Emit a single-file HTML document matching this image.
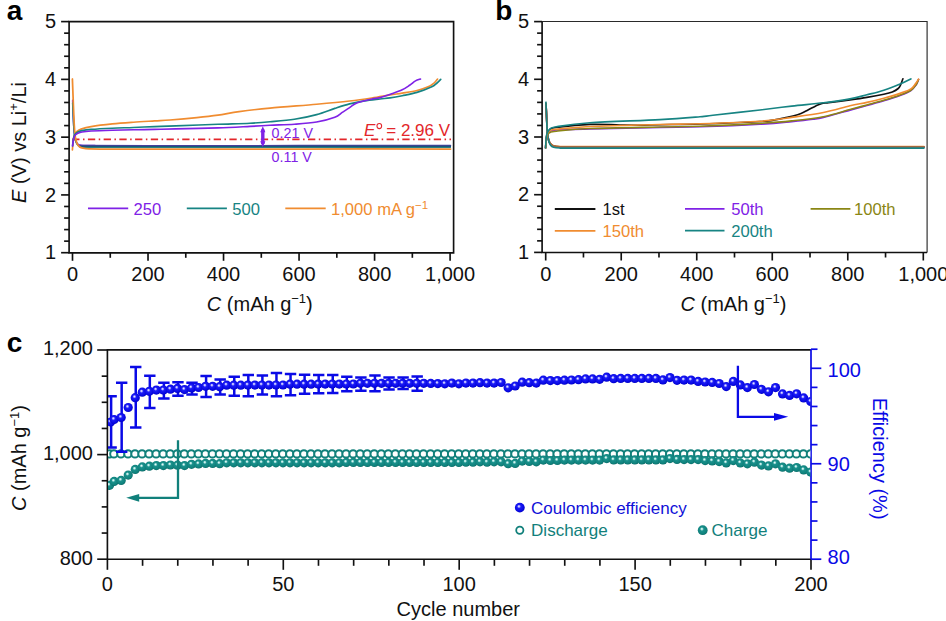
<!DOCTYPE html>
<html><head><meta charset="utf-8"><style>
html,body{margin:0;padding:0;background:#fff;}
svg{display:block;font-family:"Liberation Sans", sans-serif;}
</style></head><body>
<svg width="946" height="621" viewBox="0 0 946 621">
<rect width="946" height="621" fill="#fff"/>
<path d="M69.1,21.6 H453.6 V252.8 H69.1 Z" fill="none" stroke="#111" stroke-width="1.65"/>
<line x1="61.10" y1="252.70" x2="69.10" y2="252.70" stroke="#111" stroke-width="1.65" />
<line x1="64.10" y1="241.14" x2="69.10" y2="241.14" stroke="#111" stroke-width="1.65" />
<line x1="64.10" y1="229.59" x2="69.10" y2="229.59" stroke="#111" stroke-width="1.65" />
<line x1="64.10" y1="218.03" x2="69.10" y2="218.03" stroke="#111" stroke-width="1.65" />
<line x1="64.10" y1="206.48" x2="69.10" y2="206.48" stroke="#111" stroke-width="1.65" />
<line x1="61.10" y1="194.92" x2="69.10" y2="194.92" stroke="#111" stroke-width="1.65" />
<line x1="64.10" y1="183.37" x2="69.10" y2="183.37" stroke="#111" stroke-width="1.65" />
<line x1="64.10" y1="171.81" x2="69.10" y2="171.81" stroke="#111" stroke-width="1.65" />
<line x1="64.10" y1="160.26" x2="69.10" y2="160.26" stroke="#111" stroke-width="1.65" />
<line x1="64.10" y1="148.71" x2="69.10" y2="148.71" stroke="#111" stroke-width="1.65" />
<line x1="61.10" y1="137.15" x2="69.10" y2="137.15" stroke="#111" stroke-width="1.65" />
<line x1="64.10" y1="125.59" x2="69.10" y2="125.59" stroke="#111" stroke-width="1.65" />
<line x1="64.10" y1="114.04" x2="69.10" y2="114.04" stroke="#111" stroke-width="1.65" />
<line x1="64.10" y1="102.48" x2="69.10" y2="102.48" stroke="#111" stroke-width="1.65" />
<line x1="64.10" y1="90.93" x2="69.10" y2="90.93" stroke="#111" stroke-width="1.65" />
<line x1="61.10" y1="79.38" x2="69.10" y2="79.38" stroke="#111" stroke-width="1.65" />
<line x1="64.10" y1="67.82" x2="69.10" y2="67.82" stroke="#111" stroke-width="1.65" />
<line x1="64.10" y1="56.26" x2="69.10" y2="56.26" stroke="#111" stroke-width="1.65" />
<line x1="64.10" y1="44.71" x2="69.10" y2="44.71" stroke="#111" stroke-width="1.65" />
<line x1="64.10" y1="33.15" x2="69.10" y2="33.15" stroke="#111" stroke-width="1.65" />
<line x1="61.10" y1="21.60" x2="69.10" y2="21.60" stroke="#111" stroke-width="1.65" />
<text x="56.20" y="259.30" font-size="20" text-anchor="end" fill="#111" >1</text>
<text x="56.20" y="201.52" font-size="20" text-anchor="end" fill="#111" >2</text>
<text x="56.20" y="143.75" font-size="20" text-anchor="end" fill="#111" >3</text>
<text x="56.20" y="85.97" font-size="20" text-anchor="end" fill="#111" >4</text>
<text x="56.20" y="28.20" font-size="20" text-anchor="end" fill="#111" >5</text>
<line x1="72.50" y1="252.80" x2="72.50" y2="260.80" stroke="#111" stroke-width="1.65" />
<line x1="110.26" y1="252.80" x2="110.26" y2="257.80" stroke="#111" stroke-width="1.65" />
<line x1="148.02" y1="252.80" x2="148.02" y2="260.80" stroke="#111" stroke-width="1.65" />
<line x1="185.78" y1="252.80" x2="185.78" y2="257.80" stroke="#111" stroke-width="1.65" />
<line x1="223.54" y1="252.80" x2="223.54" y2="260.80" stroke="#111" stroke-width="1.65" />
<line x1="261.30" y1="252.80" x2="261.30" y2="257.80" stroke="#111" stroke-width="1.65" />
<line x1="299.06" y1="252.80" x2="299.06" y2="260.80" stroke="#111" stroke-width="1.65" />
<line x1="336.82" y1="252.80" x2="336.82" y2="257.80" stroke="#111" stroke-width="1.65" />
<line x1="374.58" y1="252.80" x2="374.58" y2="260.80" stroke="#111" stroke-width="1.65" />
<line x1="412.34" y1="252.80" x2="412.34" y2="257.80" stroke="#111" stroke-width="1.65" />
<line x1="450.10" y1="252.80" x2="450.10" y2="260.80" stroke="#111" stroke-width="1.65" />
<text x="72.50" y="280.60" font-size="20" text-anchor="middle" fill="#111" >0</text>
<text x="148.02" y="280.60" font-size="20" text-anchor="middle" fill="#111" >200</text>
<text x="223.54" y="280.60" font-size="20" text-anchor="middle" fill="#111" >400</text>
<text x="299.06" y="280.60" font-size="20" text-anchor="middle" fill="#111" >600</text>
<text x="374.58" y="280.60" font-size="20" text-anchor="middle" fill="#111" >800</text>
<text x="450.10" y="280.60" font-size="20" text-anchor="middle" fill="#111" >1,000</text>
<path d="M542.1,21.5 H927.1 V252.5" fill="none" stroke="#2a2a2a" stroke-width="1.15"/>
<path d="M927.1,252.5 H542.1 V21.5" fill="none" stroke="#111" stroke-width="1.65"/>
<line x1="534.10" y1="252.40" x2="542.10" y2="252.40" stroke="#111" stroke-width="1.65" />
<line x1="537.10" y1="240.86" x2="542.10" y2="240.86" stroke="#111" stroke-width="1.65" />
<line x1="537.10" y1="229.32" x2="542.10" y2="229.32" stroke="#111" stroke-width="1.65" />
<line x1="537.10" y1="217.78" x2="542.10" y2="217.78" stroke="#111" stroke-width="1.65" />
<line x1="537.10" y1="206.24" x2="542.10" y2="206.24" stroke="#111" stroke-width="1.65" />
<line x1="534.10" y1="194.70" x2="542.10" y2="194.70" stroke="#111" stroke-width="1.65" />
<line x1="537.10" y1="183.16" x2="542.10" y2="183.16" stroke="#111" stroke-width="1.65" />
<line x1="537.10" y1="171.62" x2="542.10" y2="171.62" stroke="#111" stroke-width="1.65" />
<line x1="537.10" y1="160.08" x2="542.10" y2="160.08" stroke="#111" stroke-width="1.65" />
<line x1="537.10" y1="148.54" x2="542.10" y2="148.54" stroke="#111" stroke-width="1.65" />
<line x1="534.10" y1="137.00" x2="542.10" y2="137.00" stroke="#111" stroke-width="1.65" />
<line x1="537.10" y1="125.46" x2="542.10" y2="125.46" stroke="#111" stroke-width="1.65" />
<line x1="537.10" y1="113.92" x2="542.10" y2="113.92" stroke="#111" stroke-width="1.65" />
<line x1="537.10" y1="102.38" x2="542.10" y2="102.38" stroke="#111" stroke-width="1.65" />
<line x1="537.10" y1="90.84" x2="542.10" y2="90.84" stroke="#111" stroke-width="1.65" />
<line x1="534.10" y1="79.30" x2="542.10" y2="79.30" stroke="#111" stroke-width="1.65" />
<line x1="537.10" y1="67.76" x2="542.10" y2="67.76" stroke="#111" stroke-width="1.65" />
<line x1="537.10" y1="56.22" x2="542.10" y2="56.22" stroke="#111" stroke-width="1.65" />
<line x1="537.10" y1="44.68" x2="542.10" y2="44.68" stroke="#111" stroke-width="1.65" />
<line x1="537.10" y1="33.14" x2="542.10" y2="33.14" stroke="#111" stroke-width="1.65" />
<line x1="534.10" y1="21.60" x2="542.10" y2="21.60" stroke="#111" stroke-width="1.65" />
<text x="529.00" y="259.00" font-size="20" text-anchor="end" fill="#111" >1</text>
<text x="529.00" y="201.30" font-size="20" text-anchor="end" fill="#111" >2</text>
<text x="529.00" y="143.60" font-size="20" text-anchor="end" fill="#111" >3</text>
<text x="529.00" y="85.90" font-size="20" text-anchor="end" fill="#111" >4</text>
<text x="529.00" y="28.20" font-size="20" text-anchor="end" fill="#111" >5</text>
<line x1="545.70" y1="252.50" x2="545.70" y2="260.50" stroke="#111" stroke-width="1.65" />
<line x1="583.46" y1="252.50" x2="583.46" y2="257.50" stroke="#111" stroke-width="1.65" />
<line x1="621.22" y1="252.50" x2="621.22" y2="260.50" stroke="#111" stroke-width="1.65" />
<line x1="658.98" y1="252.50" x2="658.98" y2="257.50" stroke="#111" stroke-width="1.65" />
<line x1="696.74" y1="252.50" x2="696.74" y2="260.50" stroke="#111" stroke-width="1.65" />
<line x1="734.50" y1="252.50" x2="734.50" y2="257.50" stroke="#111" stroke-width="1.65" />
<line x1="772.26" y1="252.50" x2="772.26" y2="260.50" stroke="#111" stroke-width="1.65" />
<line x1="810.02" y1="252.50" x2="810.02" y2="257.50" stroke="#111" stroke-width="1.65" />
<line x1="847.78" y1="252.50" x2="847.78" y2="260.50" stroke="#111" stroke-width="1.65" />
<line x1="885.54" y1="252.50" x2="885.54" y2="257.50" stroke="#111" stroke-width="1.65" />
<line x1="923.30" y1="252.50" x2="923.30" y2="260.50" stroke="#111" stroke-width="1.65" />
<text x="545.70" y="280.60" font-size="20" text-anchor="middle" fill="#111" >0</text>
<text x="621.22" y="280.60" font-size="20" text-anchor="middle" fill="#111" >200</text>
<text x="696.74" y="280.60" font-size="20" text-anchor="middle" fill="#111" >400</text>
<text x="772.26" y="280.60" font-size="20" text-anchor="middle" fill="#111" >600</text>
<text x="847.78" y="280.60" font-size="20" text-anchor="middle" fill="#111" >800</text>
<text x="923.30" y="280.60" font-size="20" text-anchor="middle" fill="#111" >1,000</text>
<line x1="72.2" y1="139.35" x2="451" y2="139.35" stroke="#e3262a" stroke-width="1.75" stroke-dasharray="7.3 3.5 1.5 3.42"/>
<path d="M72.70,100.40 C72.78,102.83 73.00,110.40 73.20,115.00 C73.40,119.60 73.67,124.58 73.90,128.00 C74.13,131.42 74.32,133.47 74.60,135.50 C74.88,137.53 75.17,138.88 75.60,140.20 C76.03,141.52 76.55,142.60 77.20,143.40 C77.85,144.20 78.53,144.65 79.50,145.00 C80.47,145.35 80.42,145.42 83.00,145.50 C85.58,145.58 93.00,145.50 95.00,145.50" fill="none" stroke="#7f22e6" stroke-width="1.65" stroke-linejoin="round" stroke-linecap="round" />
<path d="M72.70,103.00 C72.78,105.00 73.00,110.83 73.20,115.00 C73.40,119.17 73.67,124.53 73.90,128.00 C74.13,131.47 74.32,133.67 74.60,135.80 C74.88,137.93 75.17,139.38 75.60,140.80 C76.03,142.22 76.55,143.40 77.20,144.30 C77.85,145.20 78.53,145.78 79.50,146.20 C80.47,146.62 80.42,146.70 83.00,146.80 C85.58,146.90 93.00,146.80 95.00,146.80" fill="none" stroke="#178483" stroke-width="1.65" stroke-linejoin="round" stroke-linecap="round" />
<path d="M80.00,147.30 C91.67,147.32 113.33,147.40 150.00,147.40 C186.67,147.40 249.92,147.32 300.00,147.30 C350.08,147.28 425.42,147.30 450.50,147.30" fill="none" stroke="#2a8f84" stroke-width="1.2" stroke-linejoin="round" stroke-linecap="round" />
<path d="M80.00,145.60 C91.67,145.62 113.33,145.70 150.00,145.70 C186.67,145.70 249.92,145.62 300.00,145.60 C350.08,145.58 425.42,145.60 450.50,145.60" fill="none" stroke="#44409e" stroke-width="1.5" stroke-linejoin="round" stroke-linecap="round" />
<path d="M80.00,146.50 C91.67,146.52 113.33,146.60 150.00,146.60 C186.67,146.60 249.92,146.52 300.00,146.50 C350.08,146.48 425.42,146.50 450.50,146.50" fill="none" stroke="#1d5478" stroke-width="1.3" stroke-linejoin="round" stroke-linecap="round" />
<path d="M72.40,79.00 C72.53,82.50 72.93,93.17 73.20,100.00 C73.47,106.83 73.73,114.58 74.00,120.00 C74.27,125.42 74.50,129.25 74.80,132.50 C75.10,135.75 75.38,137.58 75.80,139.50 C76.22,141.42 76.68,142.78 77.30,144.00 C77.92,145.22 78.55,146.10 79.50,146.80 C80.45,147.50 81.42,147.85 83.00,148.20 C84.58,148.55 86.17,148.77 89.00,148.90 C91.83,149.03 81.50,148.97 100.00,149.00 C118.50,149.03 166.67,149.10 200.00,149.10 C233.33,149.10 258.25,149.02 300.00,149.00 C341.75,148.98 425.42,149.00 450.50,149.00" fill="none" stroke="#f08c30" stroke-width="1.75" stroke-linejoin="round" stroke-linecap="round" />
<path d="M72.40,150.00 C72.50,148.83 72.77,145.08 73.00,143.00 C73.23,140.92 73.43,139.08 73.80,137.50 C74.17,135.92 74.58,134.58 75.20,133.50 C75.82,132.42 76.60,131.72 77.50,131.00 C78.40,130.28 78.33,129.93 80.60,129.20 C82.87,128.47 85.82,127.48 91.10,126.60 C96.38,125.72 105.25,124.63 112.30,123.90 C119.35,123.17 126.35,122.70 133.40,122.20 C140.45,121.70 148.50,121.27 154.60,120.90 C160.70,120.53 162.97,120.55 170.00,120.00 C177.03,119.45 188.80,118.42 196.80,117.60 C204.80,116.78 210.95,116.10 218.00,115.10 C225.05,114.10 230.43,112.77 239.10,111.60 C247.77,110.43 257.08,109.33 270.00,108.10 C282.92,106.87 303.33,105.38 316.60,104.20 C329.87,103.02 340.40,102.03 349.60,101.00 C358.80,99.97 365.07,99.02 371.80,98.00 C378.53,96.98 384.93,95.72 390.00,94.90 C395.07,94.08 397.70,93.83 402.20,93.10 C406.70,92.37 412.68,91.55 417.00,90.50 C421.32,89.45 425.27,88.03 428.10,86.80 C430.93,85.57 432.42,84.40 434.00,83.10 C435.58,81.80 437.00,79.68 437.60,79.00" fill="none" stroke="#f08c30" stroke-width="1.65" stroke-linejoin="round" stroke-linecap="round" />
<path d="M72.60,146.00 C72.70,145.00 72.93,141.70 73.20,140.00 C73.47,138.30 73.80,136.87 74.20,135.80 C74.60,134.73 75.05,134.20 75.60,133.60 C76.15,133.00 76.43,132.70 77.50,132.20 C78.57,131.70 79.73,131.07 82.00,130.60 C84.27,130.13 86.05,129.80 91.10,129.40 C96.15,129.00 105.25,128.52 112.30,128.20 C119.35,127.88 126.35,127.77 133.40,127.50 C140.45,127.23 147.55,126.87 154.60,126.60 C161.65,126.33 165.13,126.28 175.70,125.90 C186.27,125.52 205.62,124.75 218.00,124.30 C230.38,123.85 241.33,123.62 250.00,123.20 C258.67,122.78 262.60,122.45 270.00,121.80 C277.40,121.15 286.63,120.50 294.40,119.30 C302.17,118.10 309.87,116.42 316.60,114.60 C323.33,112.78 329.30,110.18 334.80,108.40 C340.30,106.62 344.67,105.15 349.60,103.90 C354.53,102.65 359.33,101.72 364.40,100.90 C369.47,100.08 375.73,99.50 380.00,99.00 C384.27,98.50 386.30,98.45 390.00,97.90 C393.70,97.35 397.70,96.62 402.20,95.70 C406.70,94.78 412.07,93.88 417.00,92.40 C421.93,90.92 428.47,88.37 431.80,86.80 C435.13,85.23 435.52,84.23 437.00,83.00 C438.48,81.77 440.08,80.00 440.70,79.40" fill="none" stroke="#178483" stroke-width="1.65" stroke-linejoin="round" stroke-linecap="round" />
<path d="M72.60,146.00 C72.70,145.17 72.93,142.50 73.20,141.00 C73.47,139.50 73.80,138.03 74.20,137.00 C74.60,135.97 75.05,135.38 75.60,134.80 C76.15,134.22 76.43,133.97 77.50,133.50 C78.57,133.03 79.73,132.42 82.00,132.00 C84.27,131.58 86.05,131.30 91.10,131.00 C96.15,130.70 105.25,130.40 112.30,130.20 C119.35,130.00 126.35,129.93 133.40,129.80 C140.45,129.67 147.55,129.55 154.60,129.40 C161.65,129.25 165.13,129.15 175.70,128.90 C186.27,128.65 205.62,128.32 218.00,127.90 C230.38,127.48 241.33,126.83 250.00,126.40 C258.67,125.97 262.60,125.67 270.00,125.30 C277.40,124.93 286.63,124.75 294.40,124.20 C302.17,123.65 309.87,123.17 316.60,122.00 C323.33,120.83 330.53,118.80 334.80,117.20 C339.07,115.60 339.73,114.00 342.20,112.40 C344.67,110.80 347.50,109.02 349.60,107.60 C351.70,106.18 352.95,104.88 354.80,103.90 C356.65,102.92 357.83,102.52 360.70,101.70 C363.57,100.88 368.78,99.68 372.00,99.00 C375.22,98.32 376.82,98.43 380.00,97.60 C383.18,96.77 387.40,95.30 391.10,94.00 C394.80,92.70 399.12,91.25 402.20,89.80 C405.28,88.35 407.38,86.78 409.60,85.30 C411.82,83.82 413.68,81.95 415.50,80.90 C417.32,79.85 419.67,79.32 420.50,79.00" fill="none" stroke="#7f22e6" stroke-width="1.65" stroke-linejoin="round" stroke-linecap="round" />
<line x1="262.8" y1="129.5" x2="262.8" y2="144" stroke="#7f22e6" stroke-width="3.4"/>
<path d="M262.8,126.3 L260.2,132.2 L265.4,132.2 Z M262.8,147.2 L260.2,141.3 L265.4,141.3 Z" fill="#7f22e6"/>
<text x="271.60" y="137.50" font-size="14.3" text-anchor="start" fill="#7f22e6" >0.21 V</text>
<text x="271.60" y="162.40" font-size="14.3" text-anchor="start" fill="#7f22e6" >0.11 V</text>
<text x="364.00" y="135.60" font-size="17" text-anchor="start" fill="#e3262a" ><tspan font-style="italic">E</tspan><tspan dx="6.2"> = 2.96 V</tspan></text>
<ellipse cx="379.3" cy="126.0" rx="2.35" ry="2.6" fill="none" stroke="#e3262a" stroke-width="1.05"/>
<line x1="88.00" y1="208.40" x2="128.20" y2="208.40" stroke="#7f22e6" stroke-width="1.8" />
<text x="133.50" y="215.30" font-size="16.6" text-anchor="start" fill="#7f22e6" >250</text>
<line x1="186.80" y1="208.40" x2="226.90" y2="208.40" stroke="#178483" stroke-width="1.8" />
<text x="232.20" y="215.30" font-size="16.6" text-anchor="start" fill="#178483" >500</text>
<line x1="285.30" y1="208.40" x2="325.70" y2="208.40" stroke="#f08c30" stroke-width="1.8" />
<text x="331.00" y="215.30" font-size="16.6" text-anchor="start" fill="#f08c30" >1,000 mA g<tspan font-size="11.5" dy="-6.5">−1</tspan></text>
<path d="M546.00,103.50 C546.08,105.42 546.28,110.25 546.50,115.00 C546.72,119.75 546.95,127.83 547.30,132.00 C547.65,136.17 548.05,138.00 548.60,140.00 C549.15,142.00 549.78,142.97 550.60,144.00 C551.42,145.03 551.93,145.70 553.50,146.20 C555.07,146.70 555.58,146.87 560.00,147.00 C564.42,147.13 548.33,147.00 580.00,147.00 C611.67,147.00 692.67,147.00 750.00,147.00 C807.33,147.00 895.00,147.00 924.00,147.00" fill="none" stroke="#111" stroke-width="1.65" stroke-linejoin="round" stroke-linecap="round" />
<path d="M546.00,103.50 C546.08,105.42 546.28,110.25 546.50,115.00 C546.72,119.75 546.95,127.83 547.30,132.00 C547.65,136.17 548.05,138.02 548.60,140.00 C549.15,141.98 549.78,142.88 550.60,143.90 C551.42,144.92 551.93,145.60 553.50,146.10 C555.07,146.60 555.58,146.77 560.00,146.90 C564.42,147.03 548.33,146.90 580.00,146.90 C611.67,146.90 692.67,146.90 750.00,146.90 C807.33,146.90 895.00,146.90 924.00,146.90" fill="none" stroke="#8a8614" stroke-width="1.65" stroke-linejoin="round" stroke-linecap="round" />
<path d="M546.00,103.50 C546.08,105.42 546.28,110.25 546.50,115.00 C546.72,119.75 546.95,127.83 547.30,132.00 C547.65,136.17 548.05,138.00 548.60,140.00 C549.15,142.00 549.78,142.97 550.60,144.00 C551.42,145.03 551.93,145.70 553.50,146.20 C555.07,146.70 555.58,146.87 560.00,147.00 C564.42,147.13 548.33,147.00 580.00,147.00 C611.67,147.00 692.67,147.00 750.00,147.00 C807.33,147.00 895.00,147.00 924.00,147.00" fill="none" stroke="#7f22e6" stroke-width="1.65" stroke-linejoin="round" stroke-linecap="round" />
<path d="M546.00,103.50 C546.08,105.42 546.28,110.25 546.50,115.00 C546.72,119.75 546.95,127.83 547.30,132.00 C547.65,136.17 548.05,138.07 548.60,140.00 C549.15,141.93 549.78,142.63 550.60,143.60 C551.42,144.57 551.93,145.30 553.50,145.80 C555.07,146.30 555.58,146.47 560.00,146.60 C564.42,146.73 548.33,146.60 580.00,146.60 C611.67,146.60 692.67,146.60 750.00,146.60 C807.33,146.60 895.00,146.60 924.00,146.60" fill="none" stroke="#f08c30" stroke-width="1.65" stroke-linejoin="round" stroke-linecap="round" />
<path d="M546.00,103.50 C546.08,105.42 546.28,110.25 546.50,115.00 C546.72,119.75 546.95,127.83 547.30,132.00 C547.65,136.17 548.05,138.05 548.60,140.00 C549.15,141.95 549.78,142.72 550.60,143.70 C551.42,144.68 551.93,145.40 553.50,145.90 C555.07,146.40 555.58,146.57 560.00,146.70 C564.42,146.83 548.33,146.70 580.00,146.70 C611.67,146.70 692.67,146.70 750.00,146.70 C807.33,146.70 895.00,146.70 924.00,146.70" fill="none" stroke="#a3683f" stroke-width="1.65" stroke-linejoin="round" stroke-linecap="round" />
<path d="M545.90,102.20 C546.00,104.33 546.27,110.03 546.50,115.00 C546.73,119.97 546.95,127.75 547.30,132.00 C547.65,136.25 548.05,138.28 548.60,140.50 C549.15,142.72 549.78,144.17 550.60,145.30 C551.42,146.43 551.93,146.85 553.50,147.30 C555.07,147.75 555.58,147.87 560.00,148.00 C564.42,148.13 548.33,148.08 580.00,148.10 C611.67,148.12 692.67,148.10 750.00,148.10 C807.33,148.10 895.00,148.10 924.00,148.10" fill="none" stroke="#178483" stroke-width="1.65" stroke-linejoin="round" stroke-linecap="round" />
<path d="M545.60,148.00 C545.70,146.50 545.92,141.42 546.20,139.00 C546.48,136.58 546.67,135.08 547.30,133.50 C547.93,131.92 548.50,130.50 550.00,129.50 C551.50,128.50 549.63,128.35 556.30,127.50 C562.97,126.65 579.38,124.82 590.00,124.40 C600.62,123.98 611.67,124.87 620.00,125.00 C628.33,125.13 633.33,125.25 640.00,125.20 C646.67,125.15 650.00,124.90 660.00,124.70 C670.00,124.50 683.33,124.53 700.00,124.00 C716.67,123.47 747.33,122.23 760.00,121.50 C772.67,120.77 771.88,120.22 776.00,119.60 C780.12,118.98 781.87,118.40 784.70,117.80 C787.53,117.20 790.28,116.72 793.00,116.00 C795.72,115.28 798.50,114.50 801.00,113.50 C803.50,112.50 805.53,111.27 808.00,110.00 C810.47,108.73 813.58,106.95 815.80,105.90 C818.02,104.85 819.15,104.25 821.30,103.70 C823.45,103.15 823.92,103.23 828.70,102.60 C833.48,101.97 843.63,100.77 850.00,99.90 C856.37,99.03 861.27,98.35 866.90,97.40 C872.53,96.45 879.57,95.12 883.80,94.20 C888.03,93.28 889.90,92.85 892.30,91.90 C894.70,90.95 896.80,89.70 898.20,88.50 C899.60,87.30 899.92,86.32 900.70,84.70 C901.48,83.08 902.53,79.78 902.90,78.80" fill="none" stroke="#111" stroke-width="1.65" stroke-linejoin="round" stroke-linecap="round" />
<path d="M545.60,148.00 C545.70,146.67 545.92,142.25 546.20,140.00 C546.48,137.75 546.67,135.92 547.30,134.50 C547.93,133.08 548.50,132.25 550.00,131.50 C551.50,130.75 549.63,130.43 556.30,130.00 C562.97,129.57 572.72,129.32 590.00,128.90 C607.28,128.48 641.67,127.85 660.00,127.50 C678.33,127.15 683.33,127.35 700.00,126.80 C716.67,126.25 744.72,125.07 760.00,124.20 C775.28,123.33 782.88,122.42 791.70,121.60 C800.52,120.78 807.62,120.00 812.90,119.30 C818.18,118.60 817.22,118.93 823.40,117.40 C829.58,115.87 842.75,112.08 850.00,110.10 C857.25,108.12 861.27,107.05 866.90,105.50 C872.53,103.95 878.17,102.52 883.80,100.80 C889.43,99.08 896.18,96.92 900.70,95.20 C905.22,93.48 908.35,92.20 910.90,90.50 C913.45,88.80 914.73,86.82 916.00,85.00 C917.27,83.18 918.08,80.50 918.50,79.60" fill="none" stroke="#7f22e6" stroke-width="1.65" stroke-linejoin="round" stroke-linecap="round" />
<path d="M545.60,148.00 C545.70,146.67 545.92,142.17 546.20,140.00 C546.48,137.83 546.67,136.25 547.30,135.00 C547.93,133.75 548.50,133.13 550.00,132.50 C551.50,131.87 549.63,131.87 556.30,131.20 C562.97,130.53 572.72,129.20 590.00,128.50 C607.28,127.80 641.67,127.37 660.00,127.00 C678.33,126.63 683.33,126.90 700.00,126.30 C716.67,125.70 744.72,124.30 760.00,123.40 C775.28,122.50 781.13,122.02 791.70,120.90 C802.27,119.78 813.68,118.60 823.40,116.70 C833.12,114.80 842.75,111.45 850.00,109.50 C857.25,107.55 861.27,106.53 866.90,105.00 C872.53,103.47 878.17,102.00 883.80,100.30 C889.43,98.60 896.18,96.48 900.70,94.80 C905.22,93.12 908.35,91.88 910.90,90.20 C913.45,88.52 914.73,86.47 916.00,84.70 C917.27,82.93 918.08,80.45 918.50,79.60" fill="none" stroke="#8a8614" stroke-width="1.65" stroke-linejoin="round" stroke-linecap="round" />
<path d="M545.60,148.00 C545.70,146.67 545.92,142.42 546.20,140.00 C546.48,137.58 546.67,135.08 547.30,133.50 C547.93,131.92 548.50,131.22 550.00,130.50 C551.50,129.78 549.63,129.87 556.30,129.20 C562.97,128.53 572.72,127.28 590.00,126.50 C607.28,125.72 641.67,124.95 660.00,124.50 C678.33,124.05 683.33,124.33 700.00,123.80 C716.67,123.27 744.72,122.37 760.00,121.30 C775.28,120.23 781.13,118.87 791.70,117.40 C802.27,115.93 813.68,114.43 823.40,112.50 C833.12,110.57 842.75,107.48 850.00,105.80 C857.25,104.12 861.27,103.67 866.90,102.40 C872.53,101.13 878.17,99.75 883.80,98.20 C889.43,96.65 896.18,94.65 900.70,93.10 C905.22,91.55 908.35,90.58 910.90,88.90 C913.45,87.22 914.73,84.62 916.00,83.00 C917.27,81.38 918.08,79.83 918.50,79.20" fill="none" stroke="#f08c30" stroke-width="1.65" stroke-linejoin="round" stroke-linecap="round" />
<path d="M545.60,148.00 C545.70,146.33 545.92,140.52 546.20,138.00 C546.48,135.48 546.67,134.40 547.30,132.90 C547.93,131.40 548.50,130.03 550.00,129.00 C551.50,127.97 549.63,127.75 556.30,126.70 C562.97,125.65 572.72,123.88 590.00,122.70 C607.28,121.52 641.67,120.60 660.00,119.60 C678.33,118.60 691.18,117.42 700.00,116.70 C708.82,115.98 702.90,116.42 712.90,115.30 C722.90,114.18 746.87,111.53 760.00,110.00 C773.13,108.47 781.13,107.30 791.70,106.10 C802.27,104.90 813.68,104.00 823.40,102.80 C833.12,101.60 842.75,100.23 850.00,98.90 C857.25,97.57 861.27,96.25 866.90,94.80 C872.53,93.35 878.17,92.03 883.80,90.20 C889.43,88.37 896.18,85.68 900.70,83.80 C905.22,81.92 909.20,79.72 910.90,78.90" fill="none" stroke="#178483" stroke-width="1.65" stroke-linejoin="round" stroke-linecap="round" />
<line x1="554.80" y1="209.00" x2="595.40" y2="209.00" stroke="#111" stroke-width="1.8" />
<text x="602.50" y="215.20" font-size="16.6" text-anchor="start" fill="#111" >1st</text>
<line x1="554.80" y1="230.80" x2="595.40" y2="230.80" stroke="#f08c30" stroke-width="1.8" />
<text x="602.50" y="237.00" font-size="16.6" text-anchor="start" fill="#f08c30" >150th</text>
<line x1="685.00" y1="208.80" x2="724.50" y2="208.80" stroke="#7f22e6" stroke-width="1.8" />
<text x="731.20" y="215.00" font-size="16.6" text-anchor="start" fill="#7f22e6" >50th</text>
<line x1="685.00" y1="230.70" x2="724.50" y2="230.70" stroke="#178483" stroke-width="1.8" />
<text x="731.20" y="236.90" font-size="16.6" text-anchor="start" fill="#178483" >200th</text>
<line x1="810.60" y1="208.80" x2="850.40" y2="208.80" stroke="#8a8614" stroke-width="1.8" />
<text x="854.00" y="215.00" font-size="16.6" text-anchor="start" fill="#8a8614" >100th</text>
<text x="259.80" y="310.60" font-size="20" text-anchor="middle" fill="#111" ><tspan font-style="italic">C</tspan> (mAh g<tspan font-size="13" dy="-7.5">−1</tspan><tspan dy="7.5">)</tspan></text>
<text x="733.50" y="310.60" font-size="20" text-anchor="middle" fill="#111" ><tspan font-style="italic">C</tspan> (mAh g<tspan font-size="13" dy="-7.5">−1</tspan><tspan dy="7.5">)</tspan></text>
<text transform="translate(25.6,142.5) rotate(-90)" font-size="20" text-anchor="middle" fill="#111"><tspan font-style="italic">E</tspan> (V) vs Li<tspan font-size="13" dy="-7.5">+</tspan><tspan dy="7.5">/Li</tspan></text>
<text x="6.8" y="20.4" font-size="28" font-weight="bold" fill="#000">a</text>
<text x="495.3" y="20.4" font-size="28" font-weight="bold" fill="#000">b</text>
<text x="6.8" y="352.2" font-size="28" font-weight="bold" fill="#000">c</text>
<defs><radialGradient id="gb" cx="0.46" cy="0.44" r="0.58" fx="0.40" fy="0.36"><stop offset="0" stop-color="#f6f6ff"/><stop offset="0.14" stop-color="#b4b4ff"/><stop offset="0.34" stop-color="#1c1cf6"/><stop offset="0.8" stop-color="#0707e2"/><stop offset="1" stop-color="#0000bc"/></radialGradient><radialGradient id="gt" cx="0.46" cy="0.44" r="0.58" fx="0.40" fy="0.36"><stop offset="0" stop-color="#f4fffe"/><stop offset="0.14" stop-color="#b2e6e2"/><stop offset="0.34" stop-color="#1a918c"/><stop offset="0.8" stop-color="#0f817c"/><stop offset="1" stop-color="#0a6864"/></radialGradient></defs>
<path d="M811.0,349.8 H107.4 V559.2 H811.0" fill="none" stroke="#111" stroke-width="1.65"/>
<line x1="811.00" y1="349.10" x2="811.00" y2="559.90" stroke="#0a0ae6" stroke-width="1.7" />
<line x1="97.20" y1="559.20" x2="107.40" y2="559.20" stroke="#111" stroke-width="1.65" />
<line x1="101.70" y1="533.05" x2="107.40" y2="533.05" stroke="#111" stroke-width="1.65" />
<line x1="101.70" y1="506.90" x2="107.40" y2="506.90" stroke="#111" stroke-width="1.65" />
<line x1="101.70" y1="480.75" x2="107.40" y2="480.75" stroke="#111" stroke-width="1.65" />
<line x1="97.20" y1="454.60" x2="107.40" y2="454.60" stroke="#111" stroke-width="1.65" />
<line x1="101.70" y1="428.45" x2="107.40" y2="428.45" stroke="#111" stroke-width="1.65" />
<line x1="101.70" y1="402.30" x2="107.40" y2="402.30" stroke="#111" stroke-width="1.65" />
<line x1="101.70" y1="376.15" x2="107.40" y2="376.15" stroke="#111" stroke-width="1.65" />
<line x1="97.20" y1="350.00" x2="107.40" y2="350.00" stroke="#111" stroke-width="1.65" />
<text x="93.00" y="565.30" font-size="20" text-anchor="end" fill="#111" >800</text>
<text x="93.00" y="460.00" font-size="20" text-anchor="end" fill="#111" >1,000</text>
<text x="93.00" y="355.00" font-size="20" text-anchor="end" fill="#111" >1,200</text>
<line x1="107.40" y1="559.20" x2="107.40" y2="569.80" stroke="#111" stroke-width="1.65" />
<line x1="142.58" y1="559.20" x2="142.58" y2="565.80" stroke="#111" stroke-width="1.65" />
<line x1="177.76" y1="559.20" x2="177.76" y2="565.80" stroke="#111" stroke-width="1.65" />
<line x1="212.94" y1="559.20" x2="212.94" y2="565.80" stroke="#111" stroke-width="1.65" />
<line x1="248.12" y1="559.20" x2="248.12" y2="565.80" stroke="#111" stroke-width="1.65" />
<line x1="283.30" y1="559.20" x2="283.30" y2="569.80" stroke="#111" stroke-width="1.65" />
<line x1="318.48" y1="559.20" x2="318.48" y2="565.80" stroke="#111" stroke-width="1.65" />
<line x1="353.66" y1="559.20" x2="353.66" y2="565.80" stroke="#111" stroke-width="1.65" />
<line x1="388.84" y1="559.20" x2="388.84" y2="565.80" stroke="#111" stroke-width="1.65" />
<line x1="424.02" y1="559.20" x2="424.02" y2="565.80" stroke="#111" stroke-width="1.65" />
<line x1="459.20" y1="559.20" x2="459.20" y2="569.80" stroke="#111" stroke-width="1.65" />
<line x1="494.38" y1="559.20" x2="494.38" y2="565.80" stroke="#111" stroke-width="1.65" />
<line x1="529.56" y1="559.20" x2="529.56" y2="565.80" stroke="#111" stroke-width="1.65" />
<line x1="564.74" y1="559.20" x2="564.74" y2="565.80" stroke="#111" stroke-width="1.65" />
<line x1="599.92" y1="559.20" x2="599.92" y2="565.80" stroke="#111" stroke-width="1.65" />
<line x1="635.10" y1="559.20" x2="635.10" y2="569.80" stroke="#111" stroke-width="1.65" />
<line x1="670.28" y1="559.20" x2="670.28" y2="565.80" stroke="#111" stroke-width="1.65" />
<line x1="705.46" y1="559.20" x2="705.46" y2="565.80" stroke="#111" stroke-width="1.65" />
<line x1="740.64" y1="559.20" x2="740.64" y2="565.80" stroke="#111" stroke-width="1.65" />
<line x1="775.82" y1="559.20" x2="775.82" y2="565.80" stroke="#111" stroke-width="1.65" />
<line x1="811.00" y1="559.20" x2="811.00" y2="569.80" stroke="#111" stroke-width="1.65" />
<text x="107.40" y="591.20" font-size="20" text-anchor="middle" fill="#111" >0</text>
<text x="283.30" y="591.20" font-size="20" text-anchor="middle" fill="#111" >50</text>
<text x="459.20" y="591.20" font-size="20" text-anchor="middle" fill="#111" >100</text>
<text x="635.10" y="591.20" font-size="20" text-anchor="middle" fill="#111" >150</text>
<text x="811.00" y="591.20" font-size="20" text-anchor="middle" fill="#111" >200</text>
<line x1="811.00" y1="559.20" x2="821.30" y2="559.20" stroke="#0a0ae6" stroke-width="1.7" />
<line x1="811.00" y1="540.11" x2="817.50" y2="540.11" stroke="#0a0ae6" stroke-width="1.7" />
<line x1="811.00" y1="521.02" x2="817.50" y2="521.02" stroke="#0a0ae6" stroke-width="1.7" />
<line x1="811.00" y1="501.93" x2="817.50" y2="501.93" stroke="#0a0ae6" stroke-width="1.7" />
<line x1="811.00" y1="482.84" x2="817.50" y2="482.84" stroke="#0a0ae6" stroke-width="1.7" />
<line x1="811.00" y1="463.75" x2="821.30" y2="463.75" stroke="#0a0ae6" stroke-width="1.7" />
<line x1="811.00" y1="444.66" x2="817.50" y2="444.66" stroke="#0a0ae6" stroke-width="1.7" />
<line x1="811.00" y1="425.57" x2="817.50" y2="425.57" stroke="#0a0ae6" stroke-width="1.7" />
<line x1="811.00" y1="406.48" x2="817.50" y2="406.48" stroke="#0a0ae6" stroke-width="1.7" />
<line x1="811.00" y1="387.39" x2="817.50" y2="387.39" stroke="#0a0ae6" stroke-width="1.7" />
<line x1="811.00" y1="368.30" x2="821.30" y2="368.30" stroke="#0a0ae6" stroke-width="1.7" />
<line x1="811.00" y1="349.21" x2="817.50" y2="349.21" stroke="#0a0ae6" stroke-width="1.7" />
<text x="827.60" y="564.00" font-size="20" text-anchor="start" fill="#0a0ae6" >80</text>
<text x="827.60" y="471.00" font-size="20" text-anchor="start" fill="#0a0ae6" >90</text>
<text x="827.60" y="377.30" font-size="20" text-anchor="start" fill="#0a0ae6" >100</text>
<text x="458.30" y="616.40" font-size="20" text-anchor="middle" fill="#111" >Cycle number</text>
<text transform="translate(26.2,458.0) rotate(-90)" font-size="20" text-anchor="middle" fill="#111"><tspan font-style="italic">C</tspan> (mAh g<tspan font-size="13" dy="-7.5">−1</tspan><tspan dy="7.5">)</tspan></text>
<text transform="translate(872.6,458.6) rotate(90)" font-size="20" text-anchor="middle" fill="#0a0ae6">Efficiency (%)</text>
<clipPath id="pc"><rect x="108.0" y="350.40000000000003" width="702.4" height="208.20000000000005"/></clipPath>
<g clip-path="url(#pc)">
<circle cx="109.66" cy="453.9" r="3.7" fill="#fff" stroke="#11807b" stroke-width="2.0"/>
<circle cx="113.89" cy="453.9" r="3.7" fill="#fff" stroke="#11807b" stroke-width="2.0"/>
<circle cx="120.92" cy="453.9" r="3.7" fill="#fff" stroke="#11807b" stroke-width="2.0"/>
<circle cx="127.96" cy="453.9" r="3.7" fill="#fff" stroke="#11807b" stroke-width="2.0"/>
<circle cx="134.99" cy="453.9" r="3.7" fill="#fff" stroke="#11807b" stroke-width="2.0"/>
<circle cx="142.03" cy="453.9" r="3.7" fill="#fff" stroke="#11807b" stroke-width="2.0"/>
<circle cx="149.07" cy="453.9" r="3.7" fill="#fff" stroke="#11807b" stroke-width="2.0"/>
<circle cx="156.10" cy="453.9" r="3.7" fill="#fff" stroke="#11807b" stroke-width="2.0"/>
<circle cx="163.14" cy="453.9" r="3.7" fill="#fff" stroke="#11807b" stroke-width="2.0"/>
<circle cx="170.17" cy="453.9" r="3.7" fill="#fff" stroke="#11807b" stroke-width="2.0"/>
<circle cx="177.21" cy="453.9" r="3.7" fill="#fff" stroke="#11807b" stroke-width="2.0"/>
<circle cx="184.25" cy="453.9" r="3.7" fill="#fff" stroke="#11807b" stroke-width="2.0"/>
<circle cx="191.28" cy="453.9" r="3.7" fill="#fff" stroke="#11807b" stroke-width="2.0"/>
<circle cx="198.32" cy="453.9" r="3.7" fill="#fff" stroke="#11807b" stroke-width="2.0"/>
<circle cx="205.35" cy="453.9" r="3.7" fill="#fff" stroke="#11807b" stroke-width="2.0"/>
<circle cx="212.39" cy="453.9" r="3.7" fill="#fff" stroke="#11807b" stroke-width="2.0"/>
<circle cx="219.43" cy="453.9" r="3.7" fill="#fff" stroke="#11807b" stroke-width="2.0"/>
<circle cx="226.46" cy="453.9" r="3.7" fill="#fff" stroke="#11807b" stroke-width="2.0"/>
<circle cx="233.50" cy="453.9" r="3.7" fill="#fff" stroke="#11807b" stroke-width="2.0"/>
<circle cx="240.53" cy="453.9" r="3.7" fill="#fff" stroke="#11807b" stroke-width="2.0"/>
<circle cx="247.57" cy="453.9" r="3.7" fill="#fff" stroke="#11807b" stroke-width="2.0"/>
<circle cx="254.61" cy="453.9" r="3.7" fill="#fff" stroke="#11807b" stroke-width="2.0"/>
<circle cx="261.64" cy="453.9" r="3.7" fill="#fff" stroke="#11807b" stroke-width="2.0"/>
<circle cx="268.68" cy="453.9" r="3.7" fill="#fff" stroke="#11807b" stroke-width="2.0"/>
<circle cx="275.71" cy="453.9" r="3.7" fill="#fff" stroke="#11807b" stroke-width="2.0"/>
<circle cx="282.75" cy="453.9" r="3.7" fill="#fff" stroke="#11807b" stroke-width="2.0"/>
<circle cx="289.79" cy="453.9" r="3.7" fill="#fff" stroke="#11807b" stroke-width="2.0"/>
<circle cx="296.82" cy="453.9" r="3.7" fill="#fff" stroke="#11807b" stroke-width="2.0"/>
<circle cx="303.86" cy="453.9" r="3.7" fill="#fff" stroke="#11807b" stroke-width="2.0"/>
<circle cx="310.89" cy="453.9" r="3.7" fill="#fff" stroke="#11807b" stroke-width="2.0"/>
<circle cx="317.93" cy="453.9" r="3.7" fill="#fff" stroke="#11807b" stroke-width="2.0"/>
<circle cx="324.97" cy="453.9" r="3.7" fill="#fff" stroke="#11807b" stroke-width="2.0"/>
<circle cx="332.00" cy="453.9" r="3.7" fill="#fff" stroke="#11807b" stroke-width="2.0"/>
<circle cx="339.04" cy="453.9" r="3.7" fill="#fff" stroke="#11807b" stroke-width="2.0"/>
<circle cx="346.07" cy="453.9" r="3.7" fill="#fff" stroke="#11807b" stroke-width="2.0"/>
<circle cx="353.11" cy="453.9" r="3.7" fill="#fff" stroke="#11807b" stroke-width="2.0"/>
<circle cx="360.15" cy="453.9" r="3.7" fill="#fff" stroke="#11807b" stroke-width="2.0"/>
<circle cx="367.18" cy="453.9" r="3.7" fill="#fff" stroke="#11807b" stroke-width="2.0"/>
<circle cx="374.22" cy="453.9" r="3.7" fill="#fff" stroke="#11807b" stroke-width="2.0"/>
<circle cx="381.25" cy="453.9" r="3.7" fill="#fff" stroke="#11807b" stroke-width="2.0"/>
<circle cx="388.29" cy="453.9" r="3.7" fill="#fff" stroke="#11807b" stroke-width="2.0"/>
<circle cx="395.33" cy="453.9" r="3.7" fill="#fff" stroke="#11807b" stroke-width="2.0"/>
<circle cx="402.36" cy="453.9" r="3.7" fill="#fff" stroke="#11807b" stroke-width="2.0"/>
<circle cx="409.40" cy="453.9" r="3.7" fill="#fff" stroke="#11807b" stroke-width="2.0"/>
<circle cx="416.43" cy="453.9" r="3.7" fill="#fff" stroke="#11807b" stroke-width="2.0"/>
<circle cx="423.47" cy="453.9" r="3.7" fill="#fff" stroke="#11807b" stroke-width="2.0"/>
<circle cx="430.51" cy="453.9" r="3.7" fill="#fff" stroke="#11807b" stroke-width="2.0"/>
<circle cx="437.54" cy="453.9" r="3.7" fill="#fff" stroke="#11807b" stroke-width="2.0"/>
<circle cx="444.58" cy="453.9" r="3.7" fill="#fff" stroke="#11807b" stroke-width="2.0"/>
<circle cx="451.61" cy="453.9" r="3.7" fill="#fff" stroke="#11807b" stroke-width="2.0"/>
<circle cx="458.65" cy="453.9" r="3.7" fill="#fff" stroke="#11807b" stroke-width="2.0"/>
<circle cx="465.69" cy="453.9" r="3.7" fill="#fff" stroke="#11807b" stroke-width="2.0"/>
<circle cx="472.72" cy="453.9" r="3.7" fill="#fff" stroke="#11807b" stroke-width="2.0"/>
<circle cx="479.76" cy="453.9" r="3.7" fill="#fff" stroke="#11807b" stroke-width="2.0"/>
<circle cx="486.79" cy="453.9" r="3.7" fill="#fff" stroke="#11807b" stroke-width="2.0"/>
<circle cx="493.83" cy="453.9" r="3.7" fill="#fff" stroke="#11807b" stroke-width="2.0"/>
<circle cx="500.87" cy="453.9" r="3.7" fill="#fff" stroke="#11807b" stroke-width="2.0"/>
<circle cx="507.90" cy="453.9" r="3.7" fill="#fff" stroke="#11807b" stroke-width="2.0"/>
<circle cx="514.94" cy="453.9" r="3.7" fill="#fff" stroke="#11807b" stroke-width="2.0"/>
<circle cx="521.97" cy="453.9" r="3.7" fill="#fff" stroke="#11807b" stroke-width="2.0"/>
<circle cx="529.01" cy="453.9" r="3.7" fill="#fff" stroke="#11807b" stroke-width="2.0"/>
<circle cx="536.05" cy="453.9" r="3.7" fill="#fff" stroke="#11807b" stroke-width="2.0"/>
<circle cx="543.08" cy="453.9" r="3.7" fill="#fff" stroke="#11807b" stroke-width="2.0"/>
<circle cx="550.12" cy="453.9" r="3.7" fill="#fff" stroke="#11807b" stroke-width="2.0"/>
<circle cx="557.15" cy="453.9" r="3.7" fill="#fff" stroke="#11807b" stroke-width="2.0"/>
<circle cx="564.19" cy="453.9" r="3.7" fill="#fff" stroke="#11807b" stroke-width="2.0"/>
<circle cx="571.23" cy="453.9" r="3.7" fill="#fff" stroke="#11807b" stroke-width="2.0"/>
<circle cx="578.26" cy="453.9" r="3.7" fill="#fff" stroke="#11807b" stroke-width="2.0"/>
<circle cx="585.30" cy="453.9" r="3.7" fill="#fff" stroke="#11807b" stroke-width="2.0"/>
<circle cx="592.33" cy="453.9" r="3.7" fill="#fff" stroke="#11807b" stroke-width="2.0"/>
<circle cx="599.37" cy="453.9" r="3.7" fill="#fff" stroke="#11807b" stroke-width="2.0"/>
<circle cx="606.41" cy="453.9" r="3.7" fill="#fff" stroke="#11807b" stroke-width="2.0"/>
<circle cx="613.44" cy="453.9" r="3.7" fill="#fff" stroke="#11807b" stroke-width="2.0"/>
<circle cx="620.48" cy="453.9" r="3.7" fill="#fff" stroke="#11807b" stroke-width="2.0"/>
<circle cx="627.51" cy="453.9" r="3.7" fill="#fff" stroke="#11807b" stroke-width="2.0"/>
<circle cx="634.55" cy="453.9" r="3.7" fill="#fff" stroke="#11807b" stroke-width="2.0"/>
<circle cx="641.59" cy="453.9" r="3.7" fill="#fff" stroke="#11807b" stroke-width="2.0"/>
<circle cx="648.62" cy="453.9" r="3.7" fill="#fff" stroke="#11807b" stroke-width="2.0"/>
<circle cx="655.66" cy="453.9" r="3.7" fill="#fff" stroke="#11807b" stroke-width="2.0"/>
<circle cx="662.69" cy="453.9" r="3.7" fill="#fff" stroke="#11807b" stroke-width="2.0"/>
<circle cx="669.73" cy="453.9" r="3.7" fill="#fff" stroke="#11807b" stroke-width="2.0"/>
<circle cx="676.77" cy="453.9" r="3.7" fill="#fff" stroke="#11807b" stroke-width="2.0"/>
<circle cx="683.80" cy="453.9" r="3.7" fill="#fff" stroke="#11807b" stroke-width="2.0"/>
<circle cx="690.84" cy="453.9" r="3.7" fill="#fff" stroke="#11807b" stroke-width="2.0"/>
<circle cx="697.87" cy="453.9" r="3.7" fill="#fff" stroke="#11807b" stroke-width="2.0"/>
<circle cx="704.91" cy="453.9" r="3.7" fill="#fff" stroke="#11807b" stroke-width="2.0"/>
<circle cx="711.95" cy="453.9" r="3.7" fill="#fff" stroke="#11807b" stroke-width="2.0"/>
<circle cx="718.98" cy="453.9" r="3.7" fill="#fff" stroke="#11807b" stroke-width="2.0"/>
<circle cx="726.02" cy="453.9" r="3.7" fill="#fff" stroke="#11807b" stroke-width="2.0"/>
<circle cx="733.05" cy="453.9" r="3.7" fill="#fff" stroke="#11807b" stroke-width="2.0"/>
<circle cx="740.09" cy="453.9" r="3.7" fill="#fff" stroke="#11807b" stroke-width="2.0"/>
<circle cx="747.13" cy="453.9" r="3.7" fill="#fff" stroke="#11807b" stroke-width="2.0"/>
<circle cx="754.16" cy="453.9" r="3.7" fill="#fff" stroke="#11807b" stroke-width="2.0"/>
<circle cx="761.20" cy="453.9" r="3.7" fill="#fff" stroke="#11807b" stroke-width="2.0"/>
<circle cx="768.23" cy="453.9" r="3.7" fill="#fff" stroke="#11807b" stroke-width="2.0"/>
<circle cx="775.27" cy="453.9" r="3.7" fill="#fff" stroke="#11807b" stroke-width="2.0"/>
<circle cx="782.31" cy="453.9" r="3.7" fill="#fff" stroke="#11807b" stroke-width="2.0"/>
<circle cx="789.34" cy="453.9" r="3.7" fill="#fff" stroke="#11807b" stroke-width="2.0"/>
<circle cx="796.38" cy="453.9" r="3.7" fill="#fff" stroke="#11807b" stroke-width="2.0"/>
<circle cx="803.41" cy="453.9" r="3.7" fill="#fff" stroke="#11807b" stroke-width="2.0"/>
<circle cx="810.45" cy="453.9" r="3.7" fill="#fff" stroke="#11807b" stroke-width="2.0"/>
<circle cx="109.56" cy="485.30" r="4.6" fill="url(#gt)"/>
<circle cx="114.14" cy="481.40" r="4.6" fill="url(#gt)"/>
<circle cx="121.17" cy="480.40" r="4.6" fill="url(#gt)"/>
<circle cx="128.21" cy="475.10" r="4.6" fill="url(#gt)"/>
<circle cx="135.24" cy="469.40" r="4.6" fill="url(#gt)"/>
<circle cx="142.28" cy="466.90" r="4.6" fill="url(#gt)"/>
<circle cx="149.32" cy="466.20" r="4.6" fill="url(#gt)"/>
<circle cx="156.35" cy="465.60" r="4.6" fill="url(#gt)"/>
<circle cx="163.39" cy="465.60" r="4.6" fill="url(#gt)"/>
<circle cx="170.42" cy="465.00" r="4.6" fill="url(#gt)"/>
<circle cx="177.46" cy="465.20" r="4.6" fill="url(#gt)"/>
<circle cx="184.50" cy="465.60" r="4.6" fill="url(#gt)"/>
<circle cx="191.53" cy="464.30" r="4.6" fill="url(#gt)"/>
<circle cx="198.57" cy="463.90" r="4.6" fill="url(#gt)"/>
<circle cx="205.60" cy="463.40" r="4.6" fill="url(#gt)"/>
<circle cx="212.64" cy="463.40" r="4.6" fill="url(#gt)"/>
<circle cx="219.68" cy="463.70" r="4.6" fill="url(#gt)"/>
<circle cx="226.71" cy="462.80" r="4.6" fill="url(#gt)"/>
<circle cx="233.75" cy="462.80" r="4.6" fill="url(#gt)"/>
<circle cx="240.78" cy="462.80" r="4.6" fill="url(#gt)"/>
<circle cx="247.82" cy="462.80" r="4.6" fill="url(#gt)"/>
<circle cx="254.86" cy="462.80" r="4.6" fill="url(#gt)"/>
<circle cx="261.89" cy="462.80" r="4.6" fill="url(#gt)"/>
<circle cx="268.93" cy="462.80" r="4.6" fill="url(#gt)"/>
<circle cx="275.96" cy="462.80" r="4.6" fill="url(#gt)"/>
<circle cx="283.00" cy="462.80" r="4.6" fill="url(#gt)"/>
<circle cx="290.04" cy="462.80" r="4.6" fill="url(#gt)"/>
<circle cx="297.07" cy="462.80" r="4.6" fill="url(#gt)"/>
<circle cx="304.11" cy="462.80" r="4.6" fill="url(#gt)"/>
<circle cx="311.14" cy="462.80" r="4.6" fill="url(#gt)"/>
<circle cx="318.18" cy="462.80" r="4.6" fill="url(#gt)"/>
<circle cx="325.22" cy="462.80" r="4.6" fill="url(#gt)"/>
<circle cx="332.25" cy="462.80" r="4.6" fill="url(#gt)"/>
<circle cx="339.29" cy="462.80" r="4.6" fill="url(#gt)"/>
<circle cx="346.32" cy="462.40" r="4.6" fill="url(#gt)"/>
<circle cx="353.36" cy="462.40" r="4.6" fill="url(#gt)"/>
<circle cx="360.40" cy="462.40" r="4.6" fill="url(#gt)"/>
<circle cx="367.43" cy="462.40" r="4.6" fill="url(#gt)"/>
<circle cx="374.47" cy="462.40" r="4.6" fill="url(#gt)"/>
<circle cx="381.50" cy="462.40" r="4.6" fill="url(#gt)"/>
<circle cx="388.54" cy="462.40" r="4.6" fill="url(#gt)"/>
<circle cx="395.58" cy="462.40" r="4.6" fill="url(#gt)"/>
<circle cx="402.61" cy="462.40" r="4.6" fill="url(#gt)"/>
<circle cx="409.65" cy="462.40" r="4.6" fill="url(#gt)"/>
<circle cx="416.68" cy="462.40" r="4.6" fill="url(#gt)"/>
<circle cx="423.72" cy="462.40" r="4.6" fill="url(#gt)"/>
<circle cx="430.76" cy="462.40" r="4.6" fill="url(#gt)"/>
<circle cx="437.79" cy="462.40" r="4.6" fill="url(#gt)"/>
<circle cx="444.83" cy="462.40" r="4.6" fill="url(#gt)"/>
<circle cx="451.86" cy="462.40" r="4.6" fill="url(#gt)"/>
<circle cx="458.90" cy="462.40" r="4.6" fill="url(#gt)"/>
<circle cx="465.94" cy="462.20" r="4.6" fill="url(#gt)"/>
<circle cx="472.97" cy="462.20" r="4.6" fill="url(#gt)"/>
<circle cx="480.01" cy="461.80" r="4.6" fill="url(#gt)"/>
<circle cx="487.04" cy="462.20" r="4.6" fill="url(#gt)"/>
<circle cx="494.08" cy="461.80" r="4.6" fill="url(#gt)"/>
<circle cx="501.12" cy="461.80" r="4.6" fill="url(#gt)"/>
<circle cx="508.15" cy="463.70" r="4.6" fill="url(#gt)"/>
<circle cx="515.19" cy="463.40" r="4.6" fill="url(#gt)"/>
<circle cx="522.22" cy="461.10" r="4.6" fill="url(#gt)"/>
<circle cx="529.26" cy="461.40" r="4.6" fill="url(#gt)"/>
<circle cx="536.30" cy="461.80" r="4.6" fill="url(#gt)"/>
<circle cx="543.33" cy="460.10" r="4.6" fill="url(#gt)"/>
<circle cx="550.37" cy="460.50" r="4.6" fill="url(#gt)"/>
<circle cx="557.40" cy="460.50" r="4.6" fill="url(#gt)"/>
<circle cx="564.44" cy="460.10" r="4.6" fill="url(#gt)"/>
<circle cx="571.48" cy="460.10" r="4.6" fill="url(#gt)"/>
<circle cx="578.51" cy="460.10" r="4.6" fill="url(#gt)"/>
<circle cx="585.55" cy="460.10" r="4.6" fill="url(#gt)"/>
<circle cx="592.58" cy="460.10" r="4.6" fill="url(#gt)"/>
<circle cx="599.62" cy="460.10" r="4.6" fill="url(#gt)"/>
<circle cx="606.66" cy="458.60" r="4.6" fill="url(#gt)"/>
<circle cx="613.69" cy="459.90" r="4.6" fill="url(#gt)"/>
<circle cx="620.73" cy="459.90" r="4.6" fill="url(#gt)"/>
<circle cx="627.76" cy="459.90" r="4.6" fill="url(#gt)"/>
<circle cx="634.80" cy="459.90" r="4.6" fill="url(#gt)"/>
<circle cx="641.84" cy="459.90" r="4.6" fill="url(#gt)"/>
<circle cx="648.87" cy="459.90" r="4.6" fill="url(#gt)"/>
<circle cx="655.91" cy="459.90" r="4.6" fill="url(#gt)"/>
<circle cx="662.94" cy="459.90" r="4.6" fill="url(#gt)"/>
<circle cx="669.98" cy="458.60" r="4.6" fill="url(#gt)"/>
<circle cx="677.02" cy="459.40" r="4.6" fill="url(#gt)"/>
<circle cx="684.05" cy="459.60" r="4.6" fill="url(#gt)"/>
<circle cx="691.09" cy="459.60" r="4.6" fill="url(#gt)"/>
<circle cx="698.12" cy="459.60" r="4.6" fill="url(#gt)"/>
<circle cx="705.16" cy="460.60" r="4.6" fill="url(#gt)"/>
<circle cx="712.20" cy="460.90" r="4.6" fill="url(#gt)"/>
<circle cx="719.23" cy="461.60" r="4.6" fill="url(#gt)"/>
<circle cx="726.27" cy="462.90" r="4.6" fill="url(#gt)"/>
<circle cx="733.30" cy="460.60" r="4.6" fill="url(#gt)"/>
<circle cx="740.34" cy="462.90" r="4.6" fill="url(#gt)"/>
<circle cx="747.38" cy="463.80" r="4.6" fill="url(#gt)"/>
<circle cx="754.41" cy="462.20" r="4.6" fill="url(#gt)"/>
<circle cx="761.45" cy="465.10" r="4.6" fill="url(#gt)"/>
<circle cx="768.48" cy="465.90" r="4.6" fill="url(#gt)"/>
<circle cx="775.52" cy="463.80" r="4.6" fill="url(#gt)"/>
<circle cx="782.56" cy="467.20" r="4.6" fill="url(#gt)"/>
<circle cx="789.59" cy="468.20" r="4.6" fill="url(#gt)"/>
<circle cx="796.63" cy="467.50" r="4.6" fill="url(#gt)"/>
<circle cx="803.66" cy="469.90" r="4.6" fill="url(#gt)"/>
<circle cx="810.70" cy="472.10" r="4.6" fill="url(#gt)"/>
<path d="M111.12,396.20 V447.60 M105.42,396.20 H116.82 M105.42,447.60 H116.82" stroke="#0a0ae6" stroke-width="2.5" fill="none"/>
<path d="M121.67,382.80 V451.80 M115.97,382.80 H127.37 M115.97,451.80 H127.37" stroke="#0a0ae6" stroke-width="2.5" fill="none"/>
<path d="M135.74,367.00 V427.50 M130.04,367.00 H141.44 M130.04,427.50 H141.44" stroke="#0a0ae6" stroke-width="2.5" fill="none"/>
<path d="M149.82,375.80 V408.10 M144.12,375.80 H155.52 M144.12,408.10 H155.52" stroke="#0a0ae6" stroke-width="2.5" fill="none"/>
<path d="M163.89,382.70 V398.40 M158.19,382.70 H169.59 M158.19,398.40 H169.59" stroke="#0a0ae6" stroke-width="2.5" fill="none"/>
<path d="M177.96,382.30 V395.80 M172.26,382.30 H183.66 M172.26,395.80 H183.66" stroke="#0a0ae6" stroke-width="2.5" fill="none"/>
<path d="M192.03,382.70 V394.60 M186.33,382.70 H197.73 M186.33,394.60 H197.73" stroke="#0a0ae6" stroke-width="2.5" fill="none"/>
<path d="M206.10,376.00 V397.10 M200.40,376.00 H211.80 M200.40,397.10 H211.80" stroke="#0a0ae6" stroke-width="2.5" fill="none"/>
<path d="M220.18,379.50 V394.60 M214.48,379.50 H225.88 M214.48,394.60 H225.88" stroke="#0a0ae6" stroke-width="2.5" fill="none"/>
<path d="M234.25,376.80 V395.80 M228.55,376.80 H239.95 M228.55,395.80 H239.95" stroke="#0a0ae6" stroke-width="2.5" fill="none"/>
<path d="M248.32,375.10 V396.20 M242.62,375.10 H254.02 M242.62,396.20 H254.02" stroke="#0a0ae6" stroke-width="2.5" fill="none"/>
<path d="M262.39,375.50 V394.60 M256.69,375.50 H268.09 M256.69,394.60 H268.09" stroke="#0a0ae6" stroke-width="2.5" fill="none"/>
<path d="M276.46,373.00 V396.20 M270.76,373.00 H282.16 M270.76,396.20 H282.16" stroke="#0a0ae6" stroke-width="2.5" fill="none"/>
<path d="M290.54,374.00 V395.20 M284.84,374.00 H296.24 M284.84,395.20 H296.24" stroke="#0a0ae6" stroke-width="2.5" fill="none"/>
<path d="M304.61,374.70 V393.70 M298.91,374.70 H310.31 M298.91,393.70 H310.31" stroke="#0a0ae6" stroke-width="2.5" fill="none"/>
<path d="M318.68,375.10 V393.30 M312.98,375.10 H324.38 M312.98,393.30 H324.38" stroke="#0a0ae6" stroke-width="2.5" fill="none"/>
<path d="M332.75,375.10 V392.90 M327.05,375.10 H338.45 M327.05,392.90 H338.45" stroke="#0a0ae6" stroke-width="2.5" fill="none"/>
<path d="M346.82,376.80 V391.20 M341.12,376.80 H352.52 M341.12,391.20 H352.52" stroke="#0a0ae6" stroke-width="2.5" fill="none"/>
<path d="M360.90,377.60 V390.80 M355.20,377.60 H366.60 M355.20,390.80 H366.60" stroke="#0a0ae6" stroke-width="2.5" fill="none"/>
<path d="M374.97,375.50 V391.20 M369.27,375.50 H380.67 M369.27,391.20 H380.67" stroke="#0a0ae6" stroke-width="2.5" fill="none"/>
<path d="M389.04,377.60 V389.50 M383.34,377.60 H394.74 M383.34,389.50 H394.74" stroke="#0a0ae6" stroke-width="2.5" fill="none"/>
<path d="M403.11,377.60 V389.10 M397.41,377.60 H408.81 M397.41,389.10 H408.81" stroke="#0a0ae6" stroke-width="2.5" fill="none"/>
<path d="M417.18,376.40 V390.80 M411.48,376.40 H422.88 M411.48,390.80 H422.88" stroke="#0a0ae6" stroke-width="2.5" fill="none"/>
<circle cx="110.62" cy="422.00" r="4.6" fill="url(#gb)"/>
<circle cx="114.14" cy="419.50" r="4.6" fill="url(#gb)"/>
<circle cx="121.17" cy="417.50" r="4.6" fill="url(#gb)"/>
<circle cx="128.21" cy="407.50" r="4.6" fill="url(#gb)"/>
<circle cx="135.24" cy="397.70" r="4.6" fill="url(#gb)"/>
<circle cx="142.28" cy="392.20" r="4.6" fill="url(#gb)"/>
<circle cx="149.32" cy="391.30" r="4.6" fill="url(#gb)"/>
<circle cx="156.35" cy="390.10" r="4.6" fill="url(#gb)"/>
<circle cx="163.39" cy="390.10" r="4.6" fill="url(#gb)"/>
<circle cx="170.42" cy="389.20" r="4.6" fill="url(#gb)"/>
<circle cx="177.46" cy="388.40" r="4.6" fill="url(#gb)"/>
<circle cx="184.50" cy="389.60" r="4.6" fill="url(#gb)"/>
<circle cx="191.53" cy="387.90" r="4.6" fill="url(#gb)"/>
<circle cx="198.57" cy="387.50" r="4.6" fill="url(#gb)"/>
<circle cx="205.60" cy="386.30" r="4.6" fill="url(#gb)"/>
<circle cx="212.64" cy="386.30" r="4.6" fill="url(#gb)"/>
<circle cx="219.68" cy="386.70" r="4.6" fill="url(#gb)"/>
<circle cx="226.71" cy="385.20" r="4.6" fill="url(#gb)"/>
<circle cx="233.75" cy="385.18" r="4.6" fill="url(#gb)"/>
<circle cx="240.78" cy="385.15" r="4.6" fill="url(#gb)"/>
<circle cx="247.82" cy="385.12" r="4.6" fill="url(#gb)"/>
<circle cx="254.86" cy="385.10" r="4.6" fill="url(#gb)"/>
<circle cx="261.89" cy="385.07" r="4.6" fill="url(#gb)"/>
<circle cx="268.93" cy="385.05" r="4.6" fill="url(#gb)"/>
<circle cx="275.96" cy="385.02" r="4.6" fill="url(#gb)"/>
<circle cx="283.00" cy="385.00" r="4.6" fill="url(#gb)"/>
<circle cx="290.04" cy="384.20" r="4.6" fill="url(#gb)"/>
<circle cx="297.07" cy="384.18" r="4.6" fill="url(#gb)"/>
<circle cx="304.11" cy="384.16" r="4.6" fill="url(#gb)"/>
<circle cx="311.14" cy="384.13" r="4.6" fill="url(#gb)"/>
<circle cx="318.18" cy="384.11" r="4.6" fill="url(#gb)"/>
<circle cx="325.22" cy="384.09" r="4.6" fill="url(#gb)"/>
<circle cx="332.25" cy="384.07" r="4.6" fill="url(#gb)"/>
<circle cx="339.29" cy="384.04" r="4.6" fill="url(#gb)"/>
<circle cx="346.32" cy="384.02" r="4.6" fill="url(#gb)"/>
<circle cx="353.36" cy="384.00" r="4.6" fill="url(#gb)"/>
<circle cx="360.40" cy="383.30" r="4.6" fill="url(#gb)"/>
<circle cx="367.43" cy="383.30" r="4.6" fill="url(#gb)"/>
<circle cx="374.47" cy="383.30" r="4.6" fill="url(#gb)"/>
<circle cx="381.50" cy="383.30" r="4.6" fill="url(#gb)"/>
<circle cx="388.54" cy="383.30" r="4.6" fill="url(#gb)"/>
<circle cx="395.58" cy="383.30" r="4.6" fill="url(#gb)"/>
<circle cx="402.61" cy="383.30" r="4.6" fill="url(#gb)"/>
<circle cx="409.65" cy="383.30" r="4.6" fill="url(#gb)"/>
<circle cx="416.68" cy="383.30" r="4.6" fill="url(#gb)"/>
<circle cx="423.72" cy="383.30" r="4.6" fill="url(#gb)"/>
<circle cx="430.76" cy="383.45" r="4.6" fill="url(#gb)"/>
<circle cx="437.79" cy="383.60" r="4.6" fill="url(#gb)"/>
<circle cx="444.83" cy="383.80" r="4.6" fill="url(#gb)"/>
<circle cx="451.86" cy="383.10" r="4.6" fill="url(#gb)"/>
<circle cx="458.90" cy="383.80" r="4.6" fill="url(#gb)"/>
<circle cx="465.94" cy="383.10" r="4.6" fill="url(#gb)"/>
<circle cx="472.97" cy="383.10" r="4.6" fill="url(#gb)"/>
<circle cx="480.01" cy="382.70" r="4.6" fill="url(#gb)"/>
<circle cx="487.04" cy="383.10" r="4.6" fill="url(#gb)"/>
<circle cx="494.08" cy="383.10" r="4.6" fill="url(#gb)"/>
<circle cx="501.12" cy="382.50" r="4.6" fill="url(#gb)"/>
<circle cx="508.15" cy="387.80" r="4.6" fill="url(#gb)"/>
<circle cx="515.19" cy="386.00" r="4.6" fill="url(#gb)"/>
<circle cx="522.22" cy="382.20" r="4.6" fill="url(#gb)"/>
<circle cx="529.26" cy="382.70" r="4.6" fill="url(#gb)"/>
<circle cx="536.30" cy="383.10" r="4.6" fill="url(#gb)"/>
<circle cx="543.33" cy="380.20" r="4.6" fill="url(#gb)"/>
<circle cx="550.37" cy="380.60" r="4.6" fill="url(#gb)"/>
<circle cx="557.40" cy="380.60" r="4.6" fill="url(#gb)"/>
<circle cx="564.44" cy="380.20" r="4.6" fill="url(#gb)"/>
<circle cx="571.48" cy="380.00" r="4.6" fill="url(#gb)"/>
<circle cx="578.51" cy="379.70" r="4.6" fill="url(#gb)"/>
<circle cx="585.55" cy="378.90" r="4.6" fill="url(#gb)"/>
<circle cx="592.58" cy="378.90" r="4.6" fill="url(#gb)"/>
<circle cx="599.62" cy="379.30" r="4.6" fill="url(#gb)"/>
<circle cx="606.66" cy="377.20" r="4.6" fill="url(#gb)"/>
<circle cx="613.69" cy="378.70" r="4.6" fill="url(#gb)"/>
<circle cx="620.73" cy="378.40" r="4.6" fill="url(#gb)"/>
<circle cx="627.76" cy="378.40" r="4.6" fill="url(#gb)"/>
<circle cx="634.80" cy="378.40" r="4.6" fill="url(#gb)"/>
<circle cx="641.84" cy="378.40" r="4.6" fill="url(#gb)"/>
<circle cx="648.87" cy="378.40" r="4.6" fill="url(#gb)"/>
<circle cx="655.91" cy="378.40" r="4.6" fill="url(#gb)"/>
<circle cx="662.94" cy="379.90" r="4.6" fill="url(#gb)"/>
<circle cx="669.98" cy="377.60" r="4.6" fill="url(#gb)"/>
<circle cx="677.02" cy="380.30" r="4.6" fill="url(#gb)"/>
<circle cx="684.05" cy="380.10" r="4.6" fill="url(#gb)"/>
<circle cx="691.09" cy="380.10" r="4.6" fill="url(#gb)"/>
<circle cx="698.12" cy="381.40" r="4.6" fill="url(#gb)"/>
<circle cx="705.16" cy="382.00" r="4.6" fill="url(#gb)"/>
<circle cx="712.20" cy="382.40" r="4.6" fill="url(#gb)"/>
<circle cx="719.23" cy="383.50" r="4.6" fill="url(#gb)"/>
<circle cx="726.27" cy="386.60" r="4.6" fill="url(#gb)"/>
<circle cx="733.30" cy="381.40" r="4.6" fill="url(#gb)"/>
<circle cx="740.34" cy="384.90" r="4.6" fill="url(#gb)"/>
<circle cx="747.38" cy="387.60" r="4.6" fill="url(#gb)"/>
<circle cx="754.41" cy="384.50" r="4.6" fill="url(#gb)"/>
<circle cx="761.45" cy="389.30" r="4.6" fill="url(#gb)"/>
<circle cx="768.48" cy="391.80" r="4.6" fill="url(#gb)"/>
<circle cx="775.52" cy="387.60" r="4.6" fill="url(#gb)"/>
<circle cx="782.56" cy="393.90" r="4.6" fill="url(#gb)"/>
<circle cx="789.59" cy="395.40" r="4.6" fill="url(#gb)"/>
<circle cx="796.63" cy="393.80" r="4.6" fill="url(#gb)"/>
<circle cx="803.66" cy="397.90" r="4.6" fill="url(#gb)"/>
<circle cx="810.70" cy="401.50" r="4.6" fill="url(#gb)"/>
</g>
<path d="M737.9,365.7 V416.8 H775" fill="none" stroke="#0a0ae6" stroke-width="2.3"/>
<path d="M774,412.9 L788.2,416.8 L774,420.7 Z" fill="#0a0ae6"/>
<path d="M178,440.3 V497.8 H138" fill="none" stroke="#11807b" stroke-width="2.3"/>
<path d="M139.2,493.9 L126.2,497.8 L139.2,501.7 Z" fill="#11807b"/>
<circle cx="519.8" cy="507.6" r="4.9" fill="url(#gb)"/>
<text x="531.10" y="513.70" font-size="17" text-anchor="start" fill="#1010d8" >Coulombic efficiency</text>
<circle cx="519.8" cy="530.2" r="3.6" fill="#fff" stroke="#11807b" stroke-width="1.8"/>
<text x="531.10" y="536.30" font-size="17" text-anchor="start" fill="#11807b" >Discharge</text>
<circle cx="702.7" cy="530.2" r="4.9" fill="url(#gt)"/>
<text x="711.60" y="536.30" font-size="17" text-anchor="start" fill="#11807b" >Charge</text>
</svg>
</body></html>
